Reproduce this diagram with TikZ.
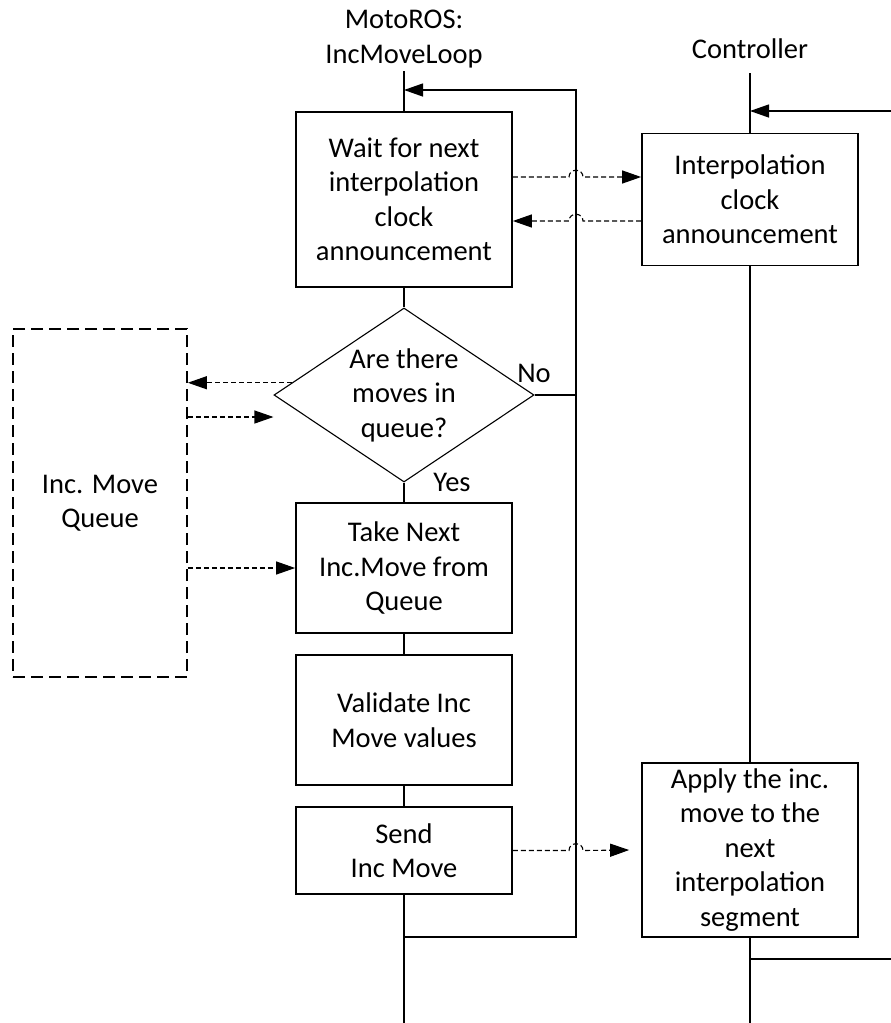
\documentclass[tikz,border=0pt]{standalone}
\usepackage{fontspec}
\setmainfont{Carlito}
\usetikzlibrary{arrows.meta,shapes.geometric,calc}
\begin{document}
\begin{tikzpicture}[x=1pt,y=-1pt,
  font=\fontsize{28.5}{34.5}\selectfont,
  box/.style={draw, line width=1.7pt, minimum width=216pt, inner sep=0pt, align=center},
  decision/.style={draw, diamond, aspect=1.5, line width=1.1pt, minimum width=260pt, minimum height=174pt, inner sep=0pt, align=center},
  queuebox/.style={draw, line width=1.7pt, dash pattern=on 12pt off 6pt, minimum width=174pt, minimum height=348pt, inner sep=0pt, align=center},
  flow/.style={line width=1.7pt},
  loopline/.style={line width=1.3pt},
  dataflow/.style={line width=1.1pt, dash pattern=on 5pt off 3pt},
  tip/.style={-{Triangle[length=19pt,width=13pt]}}
]
\useasboundingbox (0,0) rectangle (891,1023);

% headers
\node[anchor=base] (hMoto) at (404,28) {MotoROS:};
\node[anchor=base] (hLoop) at (404,63) {IncMoveLoop};
\node[anchor=base] (hCtrl) at (750,58) {Controller};

% MotoROS column
\node[box, minimum height=175pt] (wait) at (404,199.5) {Wait for next\\interpolation\\clock\\announcement};
\node[decision] (dec) at (404,395) {Are there\\moves in\\queue?};
\node[box, minimum height=130pt] (take) at (404,568) {Take Next\\Inc.Move from\\Queue};
\node[box, minimum height=130pt] (valid) at (404,720) {Validate Inc\\Move values};
\node[box, minimum height=87pt] (send) at (404,850.5) {Send\\Inc Move};

% Controller column
\node[box, minimum height=132pt] (clock) at (750,199.5) {Interpolation\\clock\\announcement};
\node[box, minimum height=174pt] (apply) at (750,850) {Apply the inc.\\move to the\\next\\interpolation\\segment};

% queue
\node[queuebox] (queue) at (100,503) {Inc. Move\\Queue};

% labels
\node (lNo) at (534,373) {No};
\node (lYes) at (452,482) {Yes};

% lifeline coordinates
\coordinate (mTop) at (404,71);
\coordinate (mBot) at (404,1023);
\coordinate (cTop) at (750,73);
\coordinate (cBot) at (750,1023);
\coordinate (loopTop) at (404,90);
\coordinate (loopBot) at (404,937);
\coordinate (loopSide) at (576,0);
\coordinate (ctrlIn) at (891,111);
\coordinate (ctrlOut) at (891,959);

% MotoROS lifeline
\draw[flow] (mTop) -- (wait.north);
\draw[flow] (wait.south) -- (dec.north);
\draw[flow] (dec.south) -- (take.north);
\draw[flow] (take.south) -- (valid.north);
\draw[flow] (valid.south) -- (send.north);
\draw[flow] (send.south) -- (mBot);

% loop back
\draw[loopline,tip] (loopBot) -- (loopBot -| loopSide) -- (loopTop -| loopSide) -- (loopTop);
\draw[loopline] (dec.east) -- (dec.east -| loopSide);

% Controller lifeline
\draw[flow] (cTop) -- (clock.north);
\draw[flow] (clock.south) -- (apply.north);
\draw[flow] (apply.south) -- (cBot);
\draw[loopline,tip] (ctrlIn) -- (ctrlIn -| cTop);
\draw[loopline] (ctrlOut -| cTop) -- (ctrlOut);

% data flows with hops
\draw[dataflow,tip] ([yshift=22.5pt]wait.east) -- (569,177) .. controls (569,168) and (583,168) .. (583,177) -- ([yshift=22.5pt]clock.west);
\draw[dataflow,tip] ([yshift=-21.5pt]clock.west) -- (583,221) .. controls (583,212) and (569,212) .. (569,221) -- ([yshift=-21.5pt]wait.east);
\draw[dataflow,tip] (send.east) -- (569,850.5) .. controls (569,841.5) and (583,841.5) .. (583,850.5) -- ([xshift=-12pt]apply.west);

% queue flows
\coordinate (qa) at ($(dec.west)!0.14!(dec.north)$);
\coordinate (qb) at ([yshift=-22pt]dec.west);
\draw[dataflow,tip] (qa) -- (qa -| queue.east);
\draw[dataflow,tip] (qb -| queue.east) -- (qb);
\draw[dataflow,tip] (queue.east |- take.west) -- (take.west);
\end{tikzpicture}
\end{document}
